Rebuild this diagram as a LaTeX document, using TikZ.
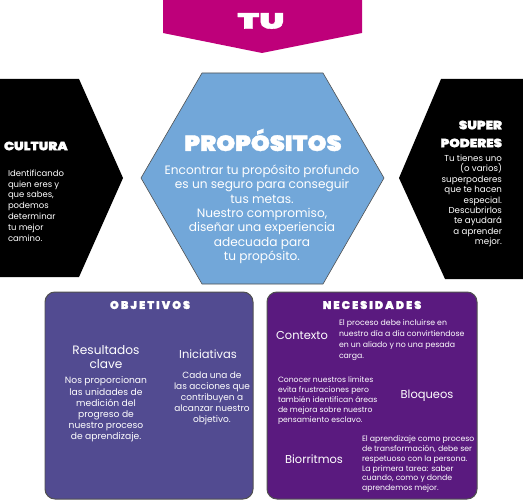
\documentclass[tikz,border=0pt]{standalone}
\usepackage{fontspec}
\setmainfont{Poppins}
\newfontfamily\heavyfont{Poppins Black}[AutoFakeBold=1.6]
\newfontfamily\spacedfont{Poppins Black}[LetterSpace=18,AutoFakeBold=1.2]
\definecolor{banner}{RGB}{190,0,122}
\definecolor{hexblue}{RGB}{114,167,217}
\definecolor{objcol}{RGB}{82,75,145}
\definecolor{neccol}{RGB}{90,26,127}
\definecolor{edgegray}{RGB}{80,80,80}
\tikzset{
  txt/.style={text=white, inner sep=0pt, outer sep=0pt},
  heading/.style={txt, font=\heavyfont\bfseries\fontsize{#1}{#1}\selectfont},
  paneltitle/.style={txt, font=\spacedfont\bfseries\fontsize{11.2}{11.2}\selectfont},
  panel/.style={draw=edgegray, line width=1pt, rounded corners=10pt}
}
\begin{document}
\begin{tikzpicture}[x=1bp,y=-1bp]
\useasboundingbox (0,0) rectangle (523,501);
% banner
\fill[banner] (163,0) -- (362,0) -- (362,33) -- (262,53) -- (163,33) -- cycle;
\node[heading=22] (tu) at (261,21) {\scalebox{1.6}[1]{TU}};
% left black chevron
\fill[black] (0,79) -- (79,79) -- (123,178) -- (79,277) -- (0,277) -- cycle;
\node[heading=12, anchor=west] (cultura) at (4,146) {\scalebox{1.12}[1]{CULTURA}};
\node[txt, anchor=north west, align=left, font=\fontsize{8.5}{10.8}\selectfont] (culturatxt) at (8,170)
 {Identificando\\quien eres y\\que sabes,\\podemos\\determinar\\tu mejor\\camino.};
% right black chevron
\fill[black] (523,79) -- (441,79) -- (399,178) -- (445,279) -- (523,279) -- cycle;
\node[txt, anchor=east, align=right, font=\heavyfont\bfseries\fontsize{12}{18}\selectfont] (super) at (502,134)
 {\scalebox{1.12}[1]{SUPER}\\\scalebox{1.12}[1]{PODERES}};
\node[txt, anchor=north east, align=right, font=\fontsize{8.7}{10.4}\selectfont] (supertxt) at (502,155)
 {Tu tienes uno\\(o varios)\ \\superpoderes\\que te hacen\\especial.\\Descubrirlos\\te ayudará\\a aprender\\mejor.};
% hexagon
\filldraw[fill=hexblue, draw=edgegray, line width=0.6pt] (202,73) -- (323,73) -- (384,178) -- (323,284) -- (202,284) -- (141,178) -- cycle;
\node[heading=22] (prop) at (263,140) {\scalebox{1.1}[1]{PROPÓSITOS}};
\node[txt, anchor=north, align=center, font=\fontsize{12.2}{14.4}\selectfont] (proptxt) at (262,165)
 {Encontrar tu propósito profundo\\es un seguro para conseguir\\tus metas.\\Nuestro compromiso,\\diseñar una experiencia\\adecuada para\\tu propósito.};
% objetivos panel
\filldraw[panel, fill=objcol] (45,292) rectangle (253,499);
\node[paneltitle] (obj) at (150,305) {OBJETIVOS};
\node[txt, align=center, font=\fontsize{12.2}{14}\selectfont] (rc) at (106,357) {Resultados\\clave};
\node[txt, anchor=north, align=center, font=\fontsize{9.2}{11.2}\selectfont] (rctxt) at (106,377)
 {Nos proporcionan\\las unidades de\\medición del\\progreso de\\nuestro proceso\\de aprendizaje.};
\node[txt, font=\fontsize{11.5}{13}\selectfont] (ini) at (208,354) {Iniciativas};
\node[txt, anchor=north, align=center, font=\fontsize{9}{11}\selectfont] (initxt) at (212,372)
 {Cada una de\\las acciones que\\contribuyen a\\alcanzar nuestro\\objetivo.};
% necesidades panel
\filldraw[panel, fill=neccol] (267,292) rectangle (477,499);
\node[paneltitle] (nec) at (372,305) {NECESIDADES};
\node[txt, font=\fontsize{11.5}{13}\selectfont] (ctx) at (302,336) {Contexto};
\node[txt, anchor=north west, align=left, font=\fontsize{7.8}{11}\selectfont] (ctxtxt) at (339,320)
 {El proceso debe incluirse en\\nuestro día a día convirtiendose\\en un aliado y no una pesada\\carga.};
\node[txt, anchor=north west, align=left, font=\fontsize{7.7}{10}\selectfont] (bloqtxt) at (278,377)
 {Conocer nuestros limites\\evita frustraciones pero\\también identifican áreas\\de mejora sobre nuestro\\pensamiento esclavo.};
\node[txt, font=\fontsize{11.5}{13}\selectfont] (bloq) at (427,396) {Bloqueos};
\node[txt, font=\fontsize{11.5}{13}\selectfont] (bio) at (314,459) {Biorritmos};
\node[txt, anchor=north west, align=left, font=\fontsize{7.8}{9.8}\selectfont] (biotxt) at (362,436)
 {El aprendizaje como proceso\\de transformación, debe ser\\respetuoso con la persona.\\La primera tarea: saber\\cuando, como y donde\\aprendemos mejor.};
\end{tikzpicture}
\end{document}
